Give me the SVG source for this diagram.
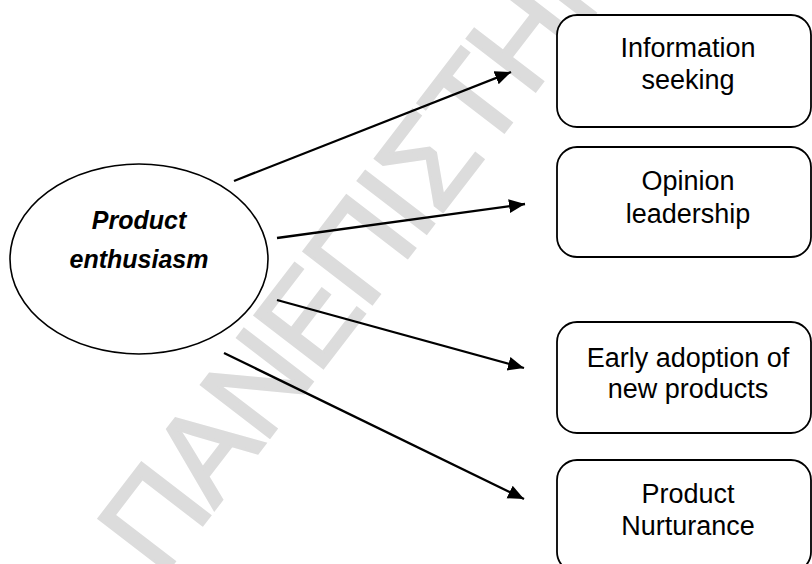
<svg xmlns="http://www.w3.org/2000/svg" width="812" height="564" viewBox="0 0 812 564">
<style>
.wm{font-family:"Liberation Sans",Arial,sans-serif;font-size:125px;letter-spacing:-2.6px;fill:#dcdcdc;stroke:#dcdcdc;stroke-width:3;}
.box{fill:#fff;stroke:#000;stroke-width:1.8;}
.ell{fill:#fff;stroke:#000;stroke-width:1.6;}
.t{font-family:"Liberation Sans",Arial,sans-serif;font-size:27px;fill:#000;text-anchor:middle;}
.tb{font-family:"Liberation Sans",Arial,sans-serif;font-size:25px;font-weight:bold;font-style:italic;fill:#000;text-anchor:middle;}
.conn line{stroke:#000;stroke-width:2.3;marker-end:url(#ah);}
</style>
<defs>
<marker id="ah" markerUnits="userSpaceOnUse" markerWidth="18" markerHeight="16" refX="16" refY="7" orient="auto">
<path d="M0,0 L16,7 L0,14 Z" fill="#000"/>
</marker>
</defs>
<rect width="812" height="564" fill="#fff"/>
<text class="wm" transform="translate(161,579) rotate(-52.5)">ΠΑΝΕΠΙΣΤΗΜΙΟ</text>
<g class="conn" id="connectors">
<line x1="234" y1="181" x2="511" y2="72"/>
<line x1="277" y1="238" x2="525" y2="204"/>
<line x1="277" y1="300" x2="524" y2="368"/>
<line x1="224" y1="353" x2="524" y2="499"/>
</g>
<g id="node-enthusiasm">
<ellipse class="ell" cx="139" cy="259" rx="129" ry="95"/>
<text class="tb" x="139" y="229">Product</text>
<text class="tb" x="139" y="268">enthusiasm</text>
</g>
<g id="node-info">
<rect class="box" x="557" y="15" width="254" height="112" rx="20"/>
<text class="t" x="688" y="57">Information</text>
<text class="t" x="688" y="89">seeking</text>
</g>
<g id="node-opinion">
<rect class="box" x="557" y="147" width="254" height="110" rx="20"/>
<text class="t" x="688" y="190">Opinion</text>
<text class="t" x="688" y="223">leadership</text>
</g>
<g id="node-early">
<rect class="box" x="557" y="322" width="254" height="111" rx="20"/>
<text class="t" x="688" y="367">Early adoption of</text>
<text class="t" x="688" y="398">new products</text>
</g>
<g id="node-nurture">
<rect class="box" x="557" y="460" width="254" height="112" rx="20"/>
<text class="t" x="688" y="503">Product</text>
<text class="t" x="688" y="535">Nurturance</text>
</g>
</svg>
